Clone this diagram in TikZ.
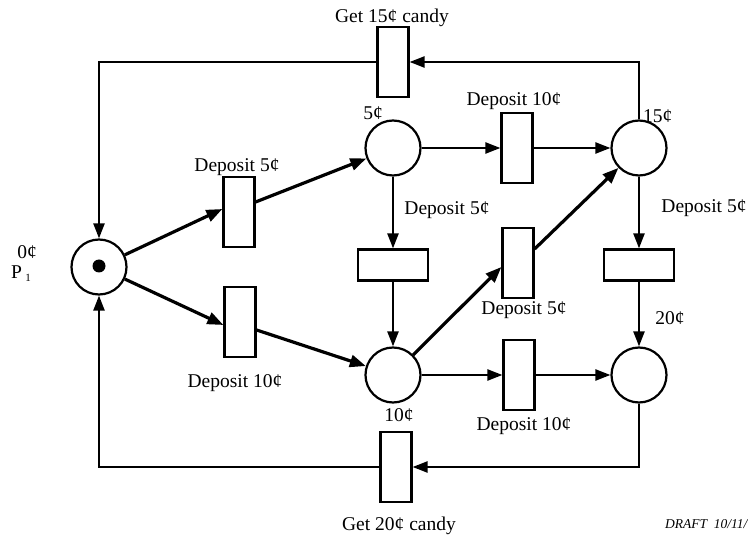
\documentclass[tikz,border=0pt]{standalone}
\usepackage{fontspec}
\setmainfont{Liberation Serif}
\usetikzlibrary{arrows.meta,calc}
\begin{document}
\begin{tikzpicture}[x=1pt,y=-1pt,
  place/.style={circle,draw,line width=2.2pt,minimum size=55pt,inner sep=0pt},
  vtrans/.style={rectangle,draw,line width=2.2pt,minimum width=31pt,minimum height=70pt,inner sep=0pt},
  htrans/.style={rectangle,draw,line width=2.2pt,minimum width=70pt,minimum height=31pt,inner sep=0pt},
  lbl/.style={font=\fontsize{19.5}{21}\selectfont,inner sep=0pt},
  draftlbl/.style={font=\fontsize{13.5}{15}\selectfont\itshape,inner sep=0pt,anchor=west},
  arc/.style={line width=2.4pt,-{Triangle[length=15pt,width=11pt]}},
  darc/.style={line width=3.2pt,-{Triangle[length=16pt,width=12pt]}},
  tok/.style={circle,fill,minimum size=13pt,inner sep=0pt}
]
\useasboundingbox (0,0) rectangle (748,537);

% places
\node[place] (p1) at (99,267) {};
\node[tok] (token) at (99,266) {};
\node[place] (c5) at (393,148) {};
\node[place] (c15) at (639,148) {};
\node[place] (c10) at (393,375) {};
\node[place] (c20) at (639,375) {};

% transitions
\node[vtrans] (g15) at (393,62) {};
\node[vtrans] (t5a) at (239,212) {};
\node[vtrans] (t10a) at (240,322) {};
\node[vtrans] (t10b) at (517,148) {};
\node[htrans] (t5b) at (393,265) {};
\node[vtrans] (t5c) at (518,263) {};
\node[vtrans] (t10c) at (519,375) {};
\node[htrans] (t5d) at (639,265) {};
\node[vtrans] (g20) at (396,467) {};

% labels
\node[lbl] (lg15) at (392,18) {Get 15¢ candy};
\node[lbl] (l5) at (373,113) {5¢};
\node[lbl] (ld10t) at (514,101) {Deposit 10¢};
\node[lbl,anchor=west] (l15) at (643,116) {15¢};
\node[lbl] (ld5a) at (237,167) {Deposit 5¢};
\node[lbl] (ld5b) at (447,210) {Deposit 5¢};
\node[lbl] (ld5d) at (704,208) {Deposit 5¢};
\node[lbl] (l0) at (27,252) {0¢};
\node[lbl] (lp1) at (21,274) {P\,\raisebox{-3pt}{\fontsize{11}{11}\selectfont 1}};
\node[lbl] (ld10a) at (235,383) {Deposit 10¢};
\node[lbl] (ld5c) at (524,310) {Deposit 5¢};
\node[lbl] (l20) at (670,318) {20¢};
\node[lbl] (l10) at (399,415) {10¢};
\node[lbl] (ld10c) at (524,426) {Deposit 10¢};
\node[lbl] (lg20) at (399,526) {Get 20¢ candy};
\node[draftlbl] (draft) at (665,524) {DRAFT\ \ 10/11/};

% connectors
\draw[arc] (c15.north) |- (g15.east);
\draw[arc] (g15.west) -| (p1.north);
\draw[arc] (c20.south) |- (g20.east);
\draw[arc] (g20.west) -| (p1.south);

\draw[darc] (p1) -- ([yshift=3pt]t5a.west);
\draw[darc] ([yshift=10pt]t5a.east) -- (c5);
\draw[darc] (p1) -- ([yshift=-3pt]t10a.west);
\draw[darc] ([yshift=-8pt]t10a.east) -- (c10);

\draw[arc] (c5) -- (t5b);
\draw[arc] (t5b) -- (c10);
\draw[arc] (c5) -- (t10b);
\draw[arc] (t10b) -- (c15);
\draw[darc] (c10) -- ([yshift=-4pt]t5c.west);
\draw[darc] ([yshift=14pt]t5c.east) -- (c15);
\draw[arc] (c10) -- (t10c);
\draw[arc] (t10c) -- (c20);
\draw[arc] (c15) -- (t5d);
\draw[arc] (t5d) -- (c20);
\end{tikzpicture}
\end{document}
